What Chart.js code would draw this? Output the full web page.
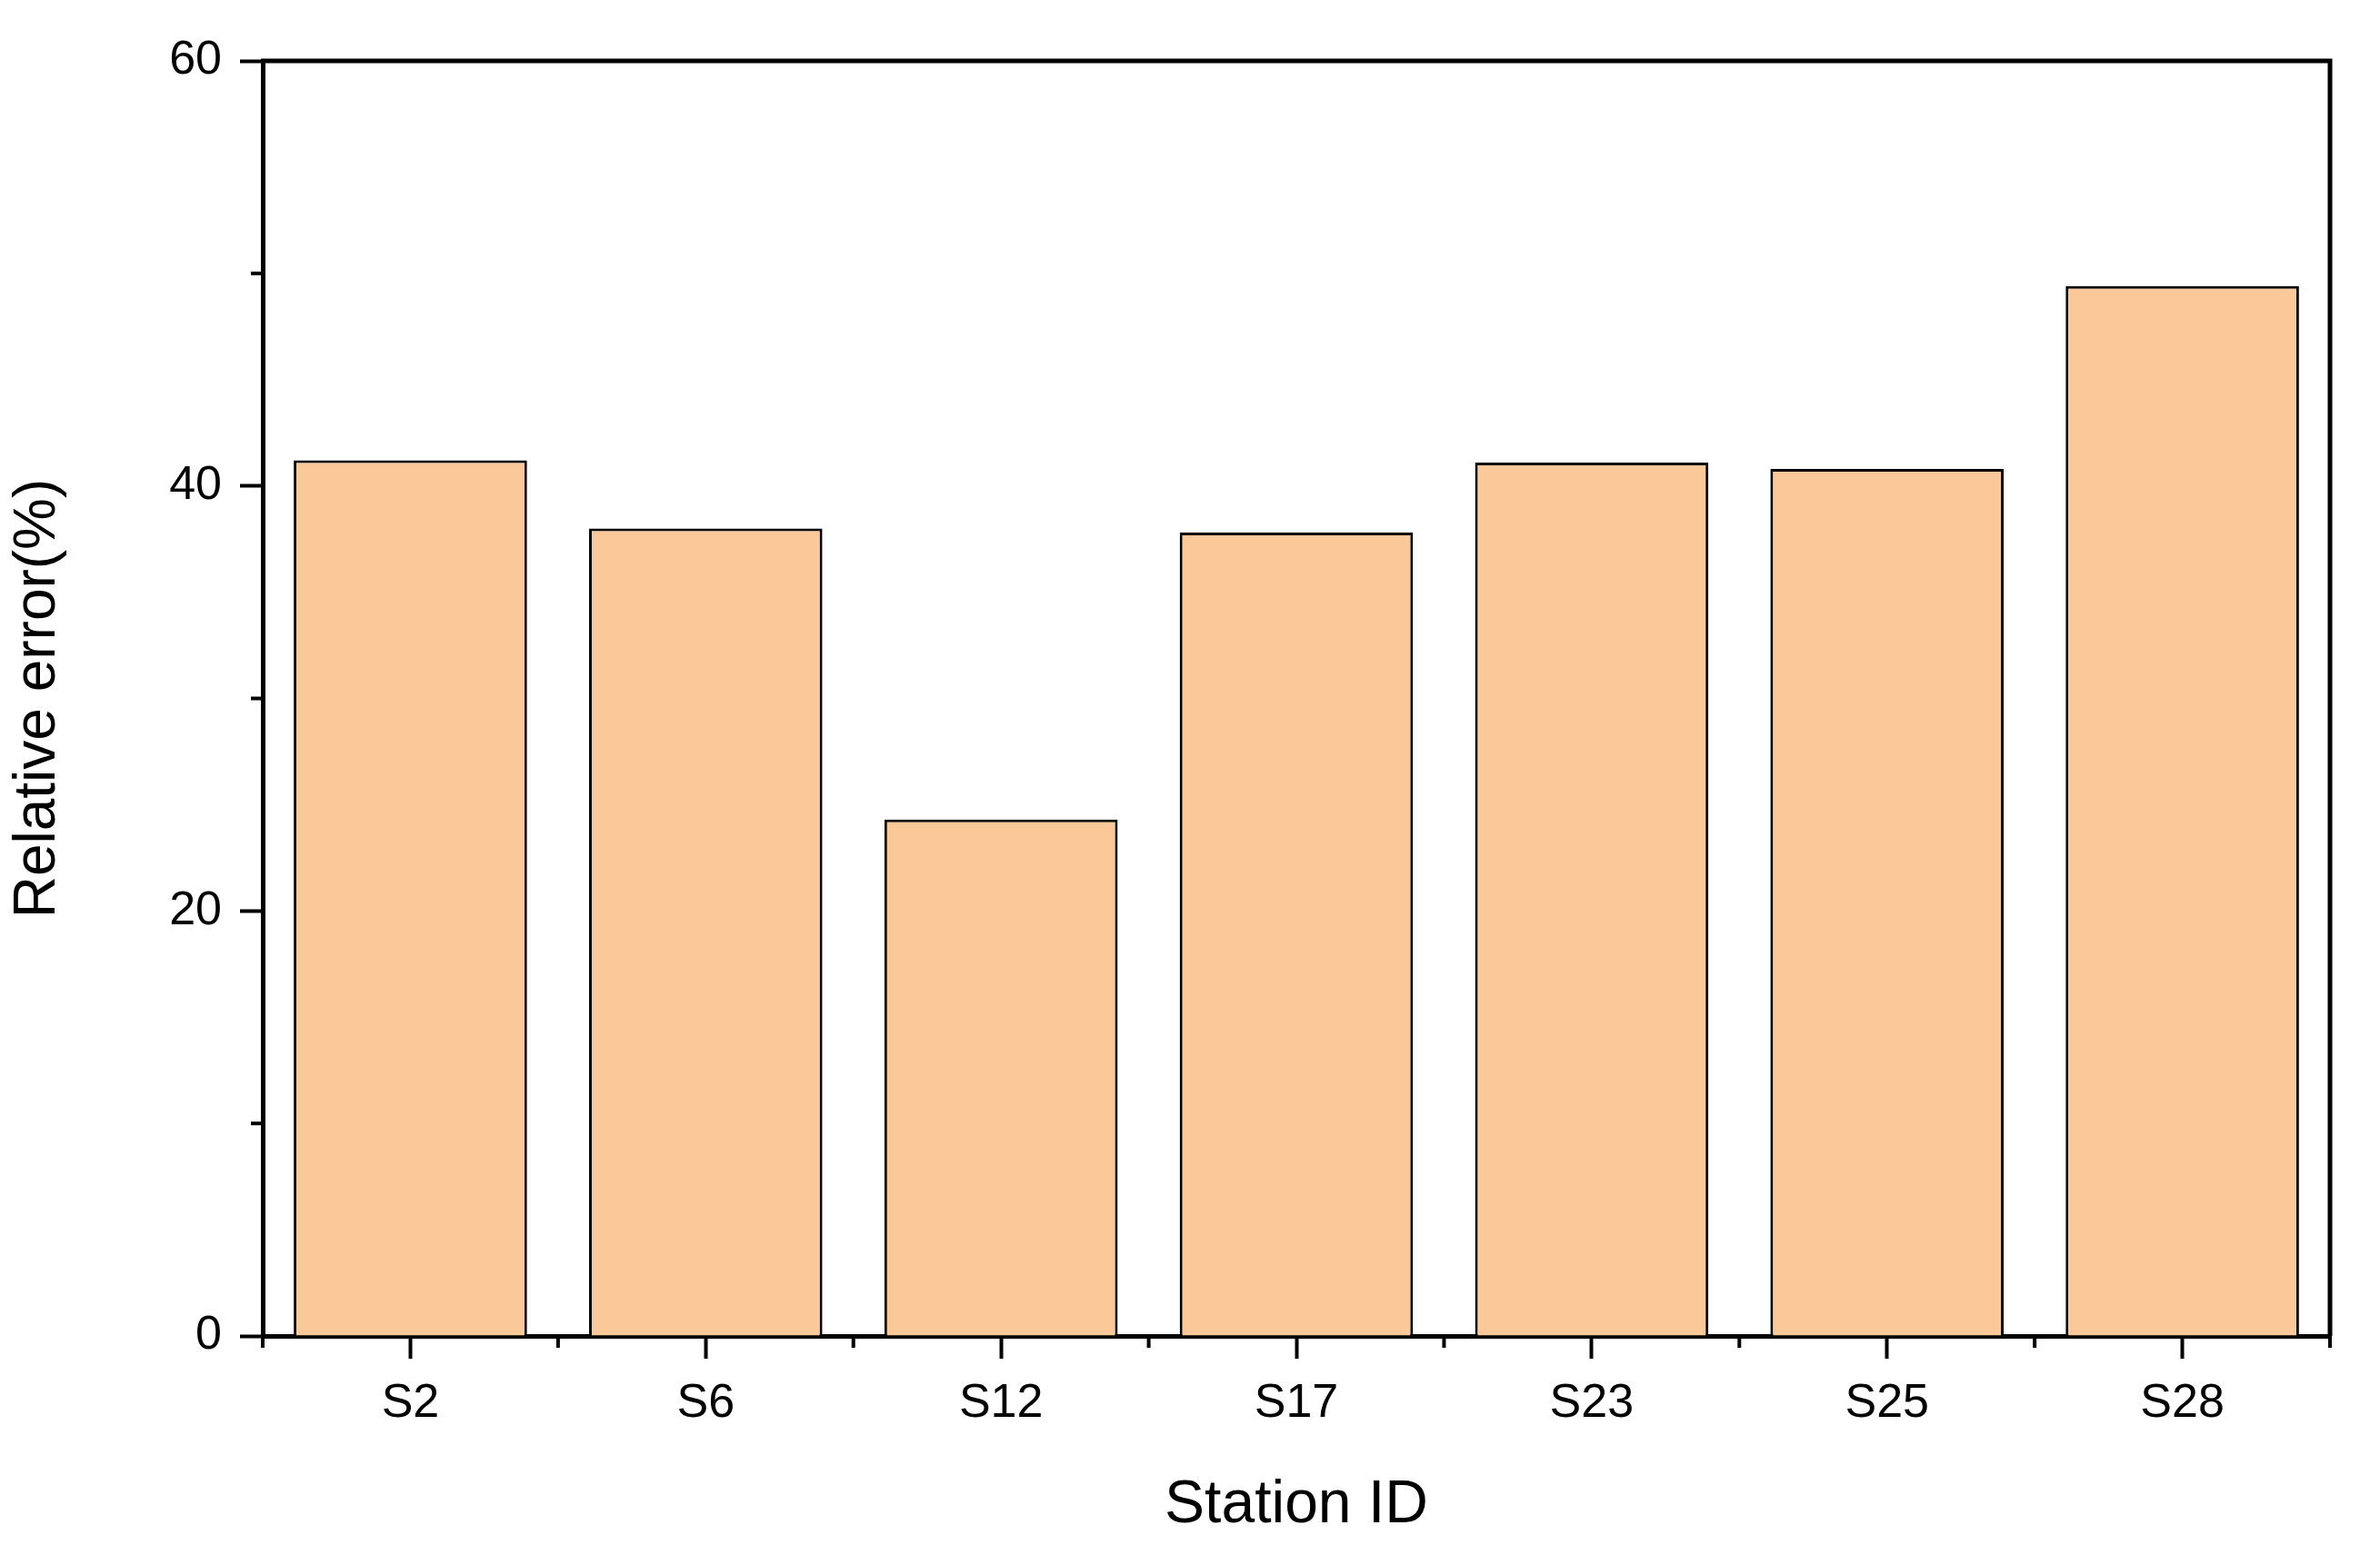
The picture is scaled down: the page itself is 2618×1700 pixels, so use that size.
<!DOCTYPE html>
<html>
<head>
<meta charset="utf-8">
<script src="https://cdn.jsdelivr.net/npm/chart.js@4.4.1/dist/chart.umd.min.js"></script>
<style>
  html, body { margin: 0; padding: 0; background: #fff; }
  #wrap { width: 2618px; height: 1700px; }
</style>
</head>
<body>
<div id="wrap"><canvas id="chart"></canvas></div>
<script>
const stations = ["S2", "S6", "S12", "S17", "S23", "S25", "S28"];
const relativeError = [41.2, 38.0, 24.3, 37.8, 41.1, 40.8, 49.4];
const yTicks = [0, 20, 40, 60];
const yMinorTicks = [10, 30, 50];

// frame on top/right plus minor ticks, like the Origin-style original
const framePlugin = {
  id: "frame",
  afterDraw(chart) {
    const { ctx, chartArea: a, scales } = chart;
    ctx.save();
    ctx.strokeStyle = "#000";
    ctx.lineWidth = 5;
    ctx.beginPath();
    ctx.moveTo(a.left - 2, a.top);
    ctx.lineTo(a.right, a.top);
    ctx.lineTo(a.right, a.bottom);
    ctx.stroke();
    ctx.lineWidth = 4;
    yMinorTicks.forEach((v) => {
      const y = scales.y.getPixelForValue(v);
      ctx.beginPath();
      ctx.moveTo(a.left, y);
      ctx.lineTo(a.left - 13, y);
      ctx.stroke();
    });
    for (let i = 0; i <= stations.length; i++) {
      const x = i === 0 ? a.left
        : i === stations.length ? a.right
        : (scales.x.getPixelForValue(i - 1) + scales.x.getPixelForValue(i)) / 2;
      ctx.beginPath();
      ctx.moveTo(x, a.bottom);
      ctx.lineTo(x, a.bottom + 13);
      ctx.stroke();
    }
    ctx.restore();
  },
};

new Chart(document.getElementById("chart").getContext("2d"), {
  type: "bar",
  data: {
    labels: stations,
    datasets: [
      {
        label: "Relative error",
        data: relativeError,
        backgroundColor: "#fbc999",
        borderColor: "#000",
        borderWidth: 3,
        borderSkipped: "bottom",
        barPercentage: 0.79,
        categoryPercentage: 1.0,
      },
    ],
  },
  options: {
    responsive: true,
    maintainAspectRatio: false,
    animation: false,
    layout: { padding: { left: 0, right: 55, top: 67, bottom: 0 } },
    plugins: { legend: { display: false }, tooltip: { enabled: false } },
    scales: {
      x: {
        offset: true,
        grid: { display: true, drawOnChartArea: false, offset: false, tickLength: 25, tickWidth: 4, tickColor: "#000" },
        border: { display: true, color: "#000", width: 5 },
        ticks: { color: "#000", font: { family: "Liberation Sans", size: 52 }, padding: 18 },
        title: { display: true, text: "Station ID", color: "#000", font: { family: "Liberation Sans", size: 66 }, padding: { top: 12 } },
        afterFit: (s) => { s.height = 230; },
      },
      y: {
        min: 0,
        max: 60,
        afterBuildTicks: (s) => { s.ticks = yTicks.map((v) => ({ value: v })); },
        grid: { display: true, drawOnChartArea: false, tickLength: 25, tickWidth: 4, tickColor: "#000" },
        border: { display: true, color: "#000", width: 5 },
        ticks: { color: "#000", font: { family: "Liberation Sans", size: 52 }, padding: 20 },
        title: { display: true, text: "Relative error(%)", color: "#000", font: { family: "Liberation Sans", size: 64 }, padding: { bottom: 10 } },
        afterFit: (s) => { s.width = 289; },
      },
    },
  },
  plugins: [framePlugin],
});
</script>
</body>
</html>
